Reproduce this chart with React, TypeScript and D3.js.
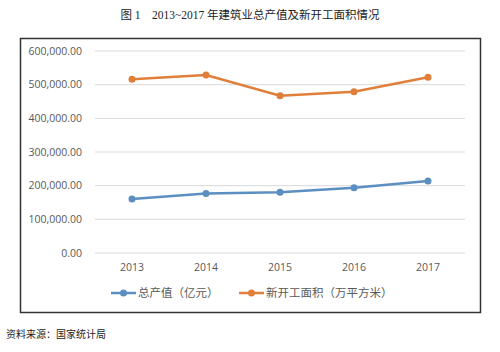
import React from "react";
import * as d3 from "d3";

// values
const years = ["2013", "2014", "2015", "2016", "2017"];
const outputValue = [160366, 176713, 180757, 193567, 213954]; // 总产值（亿元）
const newArea = [516000, 528600, 467200, 479000, 521800]; // 新开工面积（万平方米）
const yTicks = [0, 100000, 200000, 300000, 400000, 500000, 600000];

const seriesNames = ["总产值（亿元）", "新开工面积（万平方米）"];
const colors = ["#5b8fc1", "#e07f3a"];

const W = 500;
const H = 352;
const plot = { left: 95, right: 465, top: 51, bottom: 253 };

export default function App() {
  const x = d3.scaleBand<string>().domain(years).range([plot.left, plot.right]);
  const y = d3.scaleLinear().domain([0, 600000]).range([plot.bottom, plot.top]);
  const fmt = d3.format(",.2f");
  const line = d3
    .line<number>()
    .x((_, i) => (x(years[i]) as number) + x.bandwidth() / 2)
    .y((d) => y(d));

  const series = [outputValue, newArea];
  const cjk = "'Noto Sans CJK SC', sans-serif";

  return (
    <svg
      width={W}
      height={H}
      style={{ position: "absolute", left: 0, top: 0, background: "#fff" }}
    >
      <text
        x={250}
        y={19}
        textAnchor="middle"
        fontSize={11.5}
        fontFamily={"'Liberation Serif', 'Noto Sans CJK SC', serif"}
        fill="#222"
      >
        图 1　2013~2017 年建筑业总产值及新开工面积情况
      </text>

      <rect x={20.5} y={38.5} width={460} height={274} fill="#fff" stroke="#333" strokeWidth={1.5} />

      {yTicks.map((t) => (
        <g key={t}>
          <line x1={plot.left} x2={plot.right} y1={y(t)} y2={y(t)} stroke="#d9d9d9" strokeWidth={1} />
          <text
            x={82}
            y={y(t)}
            dy="0.35em"
            textAnchor="end"
            fontSize={10.5}
            fontFamily="'Open Sans', sans-serif"
            fill="#595959"
          >
            {fmt(t)}
          </text>
        </g>
      ))}

      {years.map((yr) => (
        <text
          key={yr}
          x={(x(yr) as number) + x.bandwidth() / 2}
          y={271}
          textAnchor="middle"
          fontSize={10.5}
          fontFamily="'Open Sans', sans-serif"
          fill="#595959"
        >
          {yr}
        </text>
      ))}

      {series.map((s, si) => (
        <g key={si}>
          <path d={line(s) || ""} fill="none" stroke={colors[si]} strokeWidth={2.5} />
          {s.map((v, i) => (
            <circle
              key={i}
              cx={(x(years[i]) as number) + x.bandwidth() / 2}
              cy={y(v)}
              r={3.5}
              fill={colors[si]}
            />
          ))}
        </g>
      ))}

      {/* legend */}
      {seriesNames.map((name, si) => {
        const lx = si === 0 ? 111 : 239;
        return (
          <g key={name}>
            <line x1={lx} x2={lx + 25} y1={293} y2={293} stroke={colors[si]} strokeWidth={2.5} />
            <circle cx={lx + 12.5} cy={293} r={3.5} fill={colors[si]} />
            <text x={lx + 27} y={293} dy="0.35em" fontSize={11.5} fontFamily={cjk} fill="#595959">
              {name}
            </text>
          </g>
        );
      })}

      <text x={6} y={338} fontSize={10} fontFamily={cjk} fill="#222">
        资料来源：国家统计局
      </text>
    </svg>
  );
}
